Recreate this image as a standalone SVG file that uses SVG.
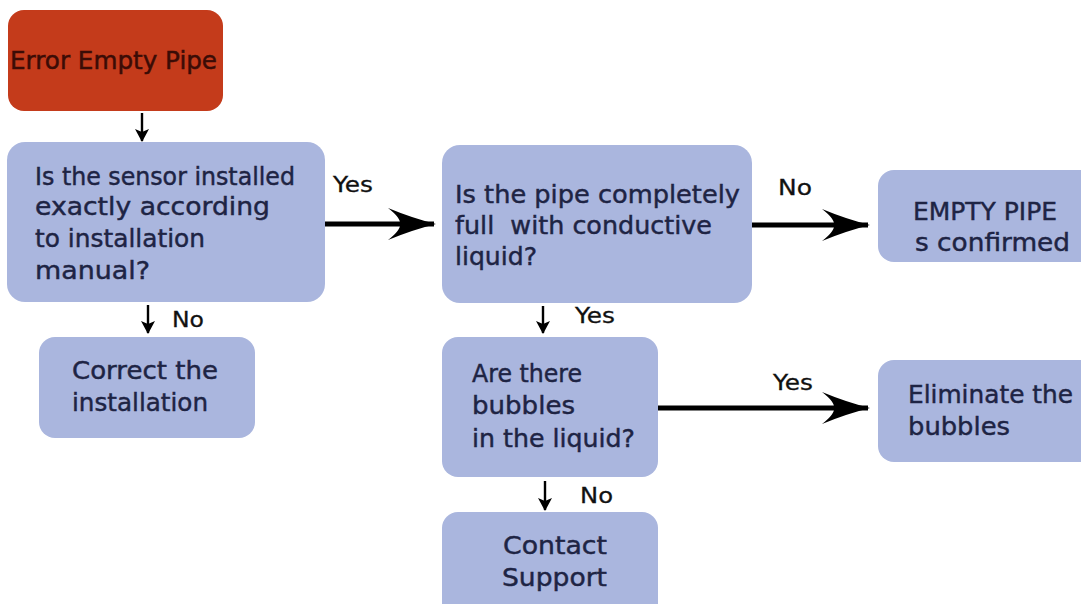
<svg xmlns="http://www.w3.org/2000/svg" width="1081" height="604" viewBox="0 0 1081 604">
<style>
.box{fill:#aab6de;}
.err{fill:#c43b1b;}
.t{font-family:"DejaVu Sans",sans-serif;font-size:25px;fill:#1e2444;stroke:#1e2444;stroke-width:0.45;}
.et{font-family:"DejaVu Sans",sans-serif;font-size:25px;fill:#3b0c06;stroke:#3b0c06;stroke-width:0.5;}
.lbl{font-family:"DejaVu Sans",sans-serif;font-size:22px;fill:#111;stroke:#111;stroke-width:0.3;}
.big{stroke:#000;stroke-width:5;fill:none;}
.small{stroke:#000;stroke-width:2.4;fill:none;}
</style>
<defs>
<marker id="bigHead" markerUnits="userSpaceOnUse" viewBox="0 0 50 34" refX="48" refY="17" markerWidth="50" markerHeight="34" orient="auto">
<path d="M50,17 Q26,11 2,1 Q15,11 14,17 Q15,23 2,33 Q26,23 50,17 Z" fill="#000"/>
</marker>
<marker id="smallHead" markerUnits="userSpaceOnUse" viewBox="0 0 14 16" refX="13" refY="8" markerWidth="14" markerHeight="16" orient="auto">
<path d="M14,8 L1,1 L4,8 L1,15 Z" fill="#000"/>
</marker>
</defs>
<rect width="1081" height="604" fill="#fff"/>

<g id="connectors">
<line class="small" x1="142" y1="113" x2="142" y2="141" marker-end="url(#smallHead)"/>
<line class="big" x1="325" y1="224" x2="434" y2="224" marker-end="url(#bigHead)"/>
<line class="big" x1="752" y1="225" x2="868" y2="225" marker-end="url(#bigHead)"/>
<line class="small" x1="148" y1="305" x2="148" y2="333" marker-end="url(#smallHead)"/>
<line class="small" x1="543" y1="306" x2="543" y2="333" marker-end="url(#smallHead)"/>
<line class="big" x1="658" y1="408" x2="868" y2="408" marker-end="url(#bigHead)"/>
<line class="small" x1="545" y1="481" x2="545" y2="510" marker-end="url(#smallHead)"/>
<text class="lbl" x="333" y="192" textLength="40" lengthAdjust="spacingAndGlyphs">Yes</text>
<text class="lbl" x="778" y="195" textLength="34" lengthAdjust="spacingAndGlyphs">No</text>
<text class="lbl" x="172" y="327" textLength="32" lengthAdjust="spacingAndGlyphs">No</text>
<text class="lbl" x="575" y="323" textLength="40" lengthAdjust="spacingAndGlyphs">Yes</text>
<text class="lbl" x="773" y="390" textLength="40" lengthAdjust="spacingAndGlyphs">Yes</text>
<text class="lbl" x="580" y="503" textLength="33" lengthAdjust="spacingAndGlyphs">No</text>
</g>

<g id="node-error">
<rect class="err" x="8" y="10" width="215" height="101" rx="16"/>
<text class="et" x="10" y="69" textLength="207" lengthAdjust="spacingAndGlyphs">Error Empty Pipe</text>
</g>

<g id="node-sensor">
<rect class="box" x="7" y="142" width="318" height="160" rx="18"/>
<text class="t" x="35" y="185" textLength="260" lengthAdjust="spacingAndGlyphs">Is the sensor installed</text>
<text class="t" x="35" y="215" textLength="235" lengthAdjust="spacingAndGlyphs">exactly according</text>
<text class="t" x="35" y="247" textLength="170" lengthAdjust="spacingAndGlyphs">to installation</text>
<text class="t" x="35" y="279" textLength="115" lengthAdjust="spacingAndGlyphs">manual?</text>
</g>

<g id="node-pipe">
<rect class="box" x="442" y="145" width="310" height="158" rx="18"/>
<text class="t" x="455" y="203" textLength="285" lengthAdjust="spacingAndGlyphs">Is the pipe completely</text>
<text class="t" x="455" y="234" textLength="257" lengthAdjust="spacingAndGlyphs" xml:space="preserve">full  with conductive</text>
<text class="t" x="455" y="265" textLength="82" lengthAdjust="spacingAndGlyphs">liquid?</text>
</g>

<g id="node-empty">
<rect class="box" x="878" y="170" width="220" height="92" rx="16"/>
<text class="t" x="913" y="220" textLength="144" lengthAdjust="spacingAndGlyphs">EMPTY PIPE</text>
<text class="t" x="915" y="251" textLength="155" lengthAdjust="spacingAndGlyphs">s confirmed</text>
</g>

<g id="node-correct">
<rect class="box" x="39" y="337" width="216" height="101" rx="16"/>
<text class="t" x="72" y="379" textLength="146" lengthAdjust="spacingAndGlyphs">Correct the</text>
<text class="t" x="72" y="411" textLength="136" lengthAdjust="spacingAndGlyphs">installation</text>
</g>

<g id="node-bubbles">
<rect class="box" x="442" y="337" width="216" height="140" rx="16"/>
<text class="t" x="472" y="382" textLength="110" lengthAdjust="spacingAndGlyphs">Are there</text>
<text class="t" x="472" y="414" textLength="103" lengthAdjust="spacingAndGlyphs">bubbles</text>
<text class="t" x="472" y="447" textLength="163" lengthAdjust="spacingAndGlyphs">in the liquid?</text>
</g>

<g id="node-eliminate">
<rect class="box" x="878" y="360" width="220" height="102" rx="16"/>
<text class="t" x="908" y="403" textLength="165" lengthAdjust="spacingAndGlyphs">Eliminate the</text>
<text class="t" x="908" y="435" textLength="102" lengthAdjust="spacingAndGlyphs">bubbles</text>
</g>

<g id="node-contact">
<rect class="box" x="442" y="512" width="216" height="110" rx="16"/>
<text class="t" x="503" y="554" textLength="104" lengthAdjust="spacingAndGlyphs">Contact</text>
<text class="t" x="502" y="586" textLength="105" lengthAdjust="spacingAndGlyphs">Support</text>
</g>
</svg>
